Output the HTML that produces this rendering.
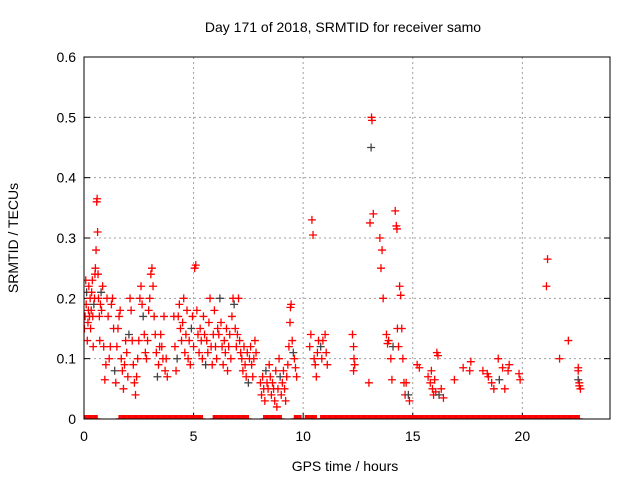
<!DOCTYPE html>
<html><head><meta charset="utf-8"><style>
body{margin:0;background:#fff}
svg{display:block;font-family:"Liberation Sans",sans-serif}
</style></head><body>
<svg id="chart" width="640" height="480" viewBox="0 0 640 480" xmlns="http://www.w3.org/2000/svg">
<defs><clipPath id="plotclip"><rect x="84" y="57" width="526" height="362"/></clipPath></defs>
<text x="343" y="32" font-size="14" text-anchor="middle">Day 171 of 2018, SRMTID for receiver samo</text>
<text x="345" y="471" font-size="14" text-anchor="middle">GPS time / hours</text>
<text x="0" y="0" font-size="14" text-anchor="middle" transform="translate(18,238) rotate(-90)">SRMTID / TECUs</text>
<g id="grid"></g>
<g id="ticks"></g>
<g id="marks" clip-path="url(#plotclip)"></g>
<rect x="84" y="57" width="526" height="362" fill="none" stroke="#000" stroke-width="1"/>
</svg>
<script>
const xTicks=[0,5,10,15,20];
const yTicks=[0,0.1,0.2,0.3,0.4,0.5,0.6];
const yTickLabels=["0","0.1","0.2","0.3","0.4","0.5","0.6"];
const times=[0.02,0.05,0.08,0.1,0.12,0.15,0.18,0.2,0.22,0.25,0.28,0.3,0.33,0.35,0.38,0.4,0.42,0.45,0.48,0.5,
0.52,0.55,0.58,0.6,0.62,0.64,0.66,0.7,0.72,0.75,0.78,0.8,0.85,0.9,0.95,1.0,1.05,1.1,
1.15,1.2,1.25,1.3,1.35,1.4,1.45,1.5,1.55,1.6,1.65,1.7,1.75,1.8,1.85,1.9,1.95,2.0,
2.05,2.1,2.15,2.2,2.25,2.3,2.35,2.4,2.45,2.5,2.55,2.6,2.65,2.7,2.75,2.8,2.85,2.9,2.95,
3.0,3.05,3.1,3.15,3.2,3.25,3.3,3.35,3.4,3.45,3.5,3.55,3.6,3.65,3.7,3.75,3.8,
4.1,4.15,4.2,4.25,4.3,4.35,4.4,4.45,4.5,4.55,4.6,4.65,4.7,4.75,4.8,4.85,4.9,4.95,5.0,
5.05,5.1,5.15,5.2,5.25,5.3,5.35,5.4,5.45,5.5,5.55,5.6,5.65,5.7,5.75,5.8,5.85,5.9,5.95,
6.0,6.05,6.1,6.15,6.2,6.25,6.3,6.35,6.4,6.45,6.5,6.55,6.6,6.65,6.7,6.75,6.8,6.85,6.9,6.95,
7.0,7.05,7.1,7.15,7.2,7.25,7.3,7.35,7.4,7.45,7.5,7.55,7.6,7.65,7.7,7.75,7.8,7.85,
8.05,8.1,8.15,8.2,8.25,8.3,8.35,8.4,8.45,8.5,8.55,8.6,8.65,8.7,8.75,8.8,8.85,8.9,8.95,
9.0,9.05,9.1,9.15,9.2,9.25,9.3,9.35,9.4,9.42,9.45,9.5,9.55,9.6,9.65,9.7,
10.3,10.35,10.4,10.45,10.5,10.55,10.6,10.65,10.7,10.8,10.85,10.9,11.0,11.05,11.1,
12.25,12.3,12.32,12.35,12.3,
13.0,13.05,13.1,13.12,13.14,13.2,13.5,13.55,13.6,13.65,13.8,13.85,13.9,14.0,14.05,14.1,
14.2,14.25,14.28,14.3,14.35,14.4,14.45,14.5,14.55,14.6,14.65,14.7,14.8,14.85,
15.2,15.3,15.7,15.8,15.85,15.9,15.95,16.0,16.05,16.1,16.15,16.2,16.3,16.4,
16.9,17.3,17.6,17.65,18.2,18.4,18.45,18.6,18.7,18.9,18.95,19.1,19.2,19.35,19.4,19.85,19.9,
21.15,21.1,21.7,22.1,22.55,22.55,22.55,22.6,22.6,22.65];
const values=[0.15,0.17,0.23,0.19,0.21,0.13,0.16,0.18,0.22,0.17,0.2,0.15,0.18,0.21,0.23,0.17,0.12,0.19,0.2,0.24,
0.25,0.28,0.36,0.365,0.31,0.24,0.2,0.17,0.13,0.19,0.21,0.18,0.22,0.12,0.065,0.09,0.2,0.17,
0.1,0.12,0.19,0.2,0.15,0.08,0.06,0.12,0.15,0.17,0.18,0.1,0.08,0.05,0.09,0.13,0.11,0.07,
0.14,0.2,0.18,0.13,0.09,0.06,0.04,0.07,0.1,0.13,0.2,0.22,0.19,0.17,0.14,0.11,0.1,0.13,0.18,
0.2,0.24,0.25,0.22,0.17,0.14,0.11,0.07,0.09,0.12,0.14,0.12,0.1,0.17,0.08,0.1,0.07,
0.17,0.12,0.08,0.1,0.17,0.19,0.15,0.13,0.16,0.2,0.11,0.14,0.18,0.1,0.13,0.09,0.15,0.17,0.12,
0.25,0.255,0.18,0.14,0.11,0.15,0.13,0.1,0.17,0.14,0.09,0.13,0.11,0.16,0.2,0.12,0.09,0.14,0.18,
0.12,0.1,0.15,0.14,0.2,0.16,0.12,0.09,0.13,0.11,0.15,0.08,0.12,0.14,0.1,0.17,0.2,0.19,0.15,0.12,
0.14,0.2,0.13,0.11,0.1,0.08,0.12,0.09,0.07,0.11,0.06,0.1,0.12,0.09,0.07,0.1,0.13,0.11,
0.06,0.04,0.07,0.05,0.03,0.08,0.06,0.05,0.09,0.07,0.04,0.06,0.05,0.03,0.08,0.02,0.05,0.1,0.07,
0.04,0.06,0.08,0.05,0.03,0.07,0.09,0.12,0.16,0.185,0.19,0.13,0.11,0.1,0.085,0.07,
0.12,0.14,0.33,0.305,0.1,0.09,0.07,0.11,0.13,0.12,0.1,0.13,0.14,0.11,0.09,
0.14,0.12,0.1,0.09,0.08,
0.06,0.325,0.45,0.5,0.495,0.34,0.3,0.25,0.28,0.2,0.14,0.125,0.13,0.1,0.065,0.12,
0.345,0.32,0.315,0.15,0.12,0.22,0.205,0.15,0.1,0.06,0.04,0.06,0.04,0.03,
0.09,0.085,0.07,0.06,0.08,0.05,0.04,0.065,0.045,0.11,0.105,0.04,0.05,0.035,
0.065,0.085,0.08,0.095,0.08,0.075,0.07,0.06,0.05,0.1,0.065,0.085,0.05,0.08,0.09,0.075,0.065,
0.265,0.22,0.1,0.13,0.085,0.08,0.065,0.055,0.06,0.05];
const zeroStarts=[0,1.6,5.9,8.2,9.6,10.1,10.8];
const zeroEnds=[0.6,5.4,7.5,9.0,9.9,10.6,22.6];

const X0=84,X1=610,Y0=419,Y1=57,XMAX=24,YMAX=0.6;
const sx=v=>X0+(v/XMAX)*(X1-X0);
const sy=v=>Y0-(v/YMAX)*(Y0-Y1);
const NS="http://www.w3.org/2000/svg";
function mk(tag,attrs,parent){const e=document.createElementNS(NS,tag);for(const k in attrs)e.setAttribute(k,attrs[k]);parent.appendChild(e);return e;}
const grid=document.getElementById('grid'),ticks=document.getElementById('ticks'),marks=document.getElementById('marks');
xTicks.forEach(t=>{
  const x=sx(t);
  if(t>0){const g=mk('line',{x1:x,x2:x,y1:Y1,y2:Y0,stroke:'#a0a0a0','stroke-dasharray':'2,3'},grid);
  
  }
  const tl=mk('line',{x1:x,x2:x,y1:Y0,y2:Y0-6,stroke:'#000'},ticks);
  
  
  const tx=mk('text',{x:x,y:Y0+22,'font-size':'14','text-anchor':'middle'},ticks);
  tx.textContent=String(t);
  
  
});
yTicks.forEach((t,i)=>{
  const y=sy(t);
  if(t>0&&t<YMAX){const g=mk('line',{x1:X0,x2:X1,y1:y,y2:y,stroke:'#a0a0a0','stroke-dasharray':'2,3'},grid);
  
  }
  const tl=mk('line',{x1:X0,x2:X0+6,y1:y,y2:y,stroke:'#000'},ticks);
  
  
  const tr=mk('line',{x1:X1,x2:X1-6,y1:y,y2:y,stroke:'#000'},ticks);
  
  
  const tx=mk('text',{x:X0-8,y:y+5,'font-size':'14','text-anchor':'end'},ticks);
  tx.textContent=yTickLabels[i];
  
  
});
function plus(x,y,col){
  const p=mk('path',{d:`M${x-4},${y}h8M${x},${y-4}v8`,stroke:col,'stroke-width':'1.3',fill:'none'},marks);
  
  
}
zeroStarts.forEach((s,i)=>{
  for(let t=s;t<=zeroEnds[i]+1e-9;t+=0.05){plus(sx(t),sy(0),'#f00');}
});
times.forEach((t,i)=>{
  plus(sx(t),sy(values[i]),i%13===4?'#444':'#f00');
});
</script>
</body></html>
